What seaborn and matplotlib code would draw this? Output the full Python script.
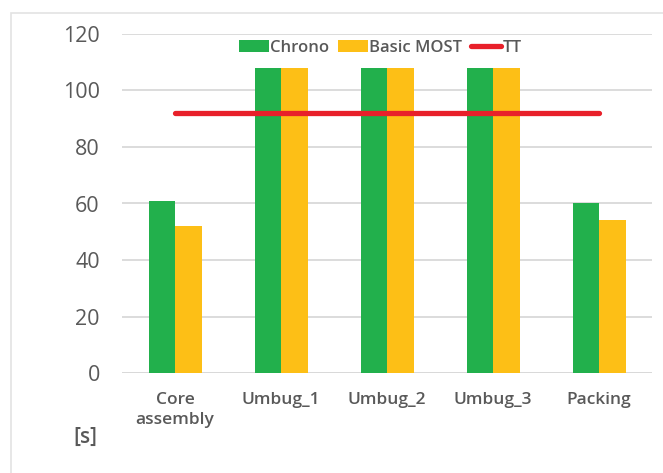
import numpy as np
import pandas as pd
import matplotlib
matplotlib.use("Agg")
import matplotlib.pyplot as plt
import seaborn as sns
from matplotlib.patches import Patch, Rectangle
from matplotlib.lines import Line2D

categories = ["Core\nassembly", "Umbug_1", "Umbug_2", "Umbug_3", "Packing"]
chrono = [61, 108, 108, 108, 60]
basic_most = [52, 108, 108, 108, 54]
tt = [92, 92, 92, 92, 92]
series_names = ["Chrono", "Basic MOST", "TT"]
yticks = [0, 20, 40, 60, 80, 100, 120]

GREEN = "#22B04C"
YELLOW = "#FDBF16"
RED = "#E8202A"
GRAY = "#595959"
GRID = "#D9D9D9"

sns.set_theme(style="white")
plt.rcParams["font.family"] = ["Open Sans", "DejaVu Sans"]

df = pd.DataFrame({
    "cat": categories * 2,
    "val": chrono + basic_most,
    "series": [series_names[0]] * len(categories) + [series_names[1]] * len(categories),
})

fig = plt.figure(figsize=(6.63, 4.73), dpi=100)
ax = fig.add_axes([122 / 663, 1 - 373 / 473, (652 - 122) / 663, (373 - 34) / 473])

sns.barplot(data=df, x="cat", y="val", hue="series", palette=[GREEN, YELLOW],
            width=0.5, gap=0, saturation=1, ax=ax, legend=False, linewidth=0)

ax.plot(np.arange(len(categories)), tt, color=RED, lw=3.8, solid_capstyle="round", zorder=5)

ax.set_ylim(0, 120)
ax.set_xlim(-0.5, len(categories) - 0.5)
ax.set_yticks(yticks)
ax.set_yticklabels([str(v) for v in yticks])
ax.yaxis.grid(True, color=GRID, lw=1.3)
ax.set_axisbelow(True)
for s in ["top", "right", "left", "bottom"]:
    ax.spines[s].set_visible(False)
ax.axhline(0, color=GRID, lw=1.3, zorder=0.5)
ax.tick_params(axis="y", length=0, pad=16, labelsize=15.5, labelcolor=GRAY)
ax.tick_params(axis="x", length=0, pad=14, labelcolor=GRAY)
for lbl in ax.get_xticklabels():
    lbl.set_fontsize(12.5)
    lbl.set_fontweight("semibold")
    lbl.set_linespacing(1.3)
ax.set_xlabel("")
ax.set_ylabel("")

handles = [Patch(facecolor=GREEN, edgecolor="none"),
           Patch(facecolor=YELLOW, edgecolor="none"),
           Line2D([0], [0], color=RED, lw=3.8, solid_capstyle="round")]
leg = fig.legend(handles, series_names, loc="center", bbox_to_anchor=(380 / 663, 1 - 48 / 473),
                 ncol=3, frameon=False, handlelength=1.8, handleheight=0.7, handletextpad=0.1,
                 columnspacing=0.5, prop={"size": 12, "weight": "semibold"})
for t in leg.get_texts():
    t.set_color(GRAY)

fig.text(85 / 663, 1 - 437 / 473, "[s]", ha="center", va="center", fontsize=15,
         fontweight="semibold", color=GRAY)

fig.add_artist(Rectangle((11 / 663, -0.05), 1.1, 1 - 13 / 473 + 0.05, transform=fig.transFigure,
                         fill=False, edgecolor="#E3E3E3", lw=1.2))

fig.savefig("out.png", dpi=100, facecolor="white")
